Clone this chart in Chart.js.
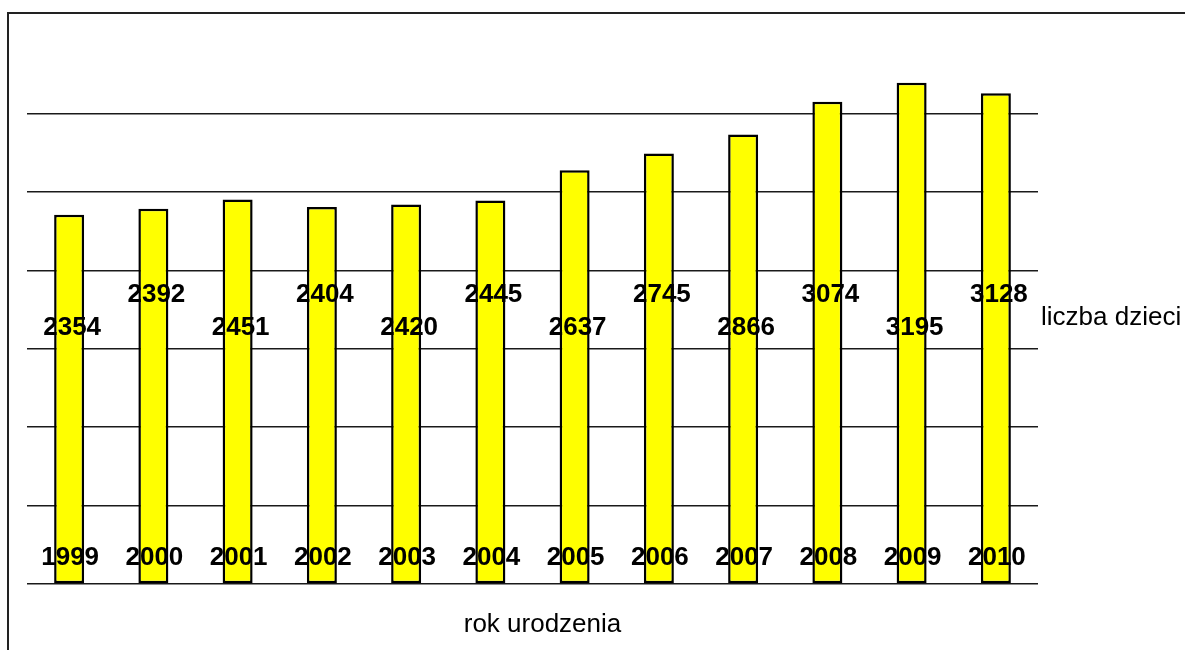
<!DOCTYPE html>
<html>
<head>
<meta charset="utf-8">
<script src="https://cdn.jsdelivr.net/npm/chart.js@4/dist/chart.umd.min.js"></script>
<style>
    html, body { margin: 0; padding: 0; background: #fff; }
    #wrap { width: 1185px; height: 650px; }
</style>
</head>
<body>
<div id="wrap"><canvas id="chart"></canvas></div>
<script>
    // --- Data ---
    const years = ['1999', '2000', '2001', '2002', '2003', '2004', '2005', '2006', '2007', '2008', '2009', '2010'];
    const children = [2354, 2392, 2451, 2404, 2420, 2445, 2637, 2745, 2866, 3074, 3195, 3128];
    const seriesName = 'liczba dzieci';
    const axisTitle = 'rok urodzenia';

    const FONT = '"Liberation Sans", Arial, sans-serif';

    // --- Labels, frame and titles drawn on top of the bars ---
    const labelsPlugin = {
        id: 'labels',
        beforeDraw(chart) {
            const ctx = chart.ctx;
            ctx.save();
            ctx.strokeStyle = '#222';
            ctx.lineWidth = 2;
            ctx.beginPath();
            ctx.moveTo(8, chart.height);
            ctx.lineTo(8, 13);
            ctx.lineTo(chart.width, 13);
            ctx.stroke();
            ctx.restore();
        },
        afterDatasetsDraw(chart) {
            const ctx = chart.ctx;
            const y = chart.scales.y;
            const area = chart.chartArea;
            const bars = chart.getDatasetMeta(0).data;
            ctx.save();
            ctx.fillStyle = '#000';
            ctx.textAlign = 'center';
            ctx.textBaseline = 'middle';
            ctx.font = 'bold 26px ' + FONT;
            bars.forEach((bar, i) => {
                // values alternate between two rows, years sit near the base
                const row = i % 2 === 0 ? 1633 : 1846;
                ctx.fillText(String(children[i]), bar.x + 3, y.getPixelForValue(row));
                ctx.fillText(years[i], bar.x + 1, y.getPixelForValue(166));
            });

            ctx.font = '26px ' + FONT;
            ctx.textBaseline = 'alphabetic';
            ctx.textAlign = 'left';
            ctx.fillText(seriesName, area.right + 3, 325);
            ctx.textAlign = 'center';
            ctx.fillText(axisTitle, (area.left + area.right) / 2 + 10, 632);
            ctx.restore();
        }
    };

    new Chart(document.getElementById('chart'), {
        type: 'bar',
        data: {
            labels: years,
            datasets: [{
                label: seriesName,
                data: children,
                backgroundColor: '#FFFF00',
                borderColor: '#000',
                borderWidth: 2.5,
                borderSkipped: false,
                categoryPercentage: 1,
                barPercentage: 0.356
            }]
        },
        options: {
            responsive: true,
            maintainAspectRatio: false,
            animation: false,
            layout: { padding: { left: 27, right: 147, top: 35, bottom: 66 } },
            plugins: { legend: { display: false }, tooltip: { enabled: false } },
            scales: {
                x: { display: false },
                y: {
                    min: 0,
                    max: 3500,
                    ticks: { display: false, stepSize: 500 },
                    border: { display: false },
                    grid: {
                        drawTicks: false,
                        color: (c) => (c.tick && c.tick.value === 3500) ? 'rgba(0,0,0,0)' : '#1a1a1a',
                        lineWidth: 1.5
                    }
                }
            }
        },
        plugins: [labelsPlugin]
    });
</script>
</body>
</html>
